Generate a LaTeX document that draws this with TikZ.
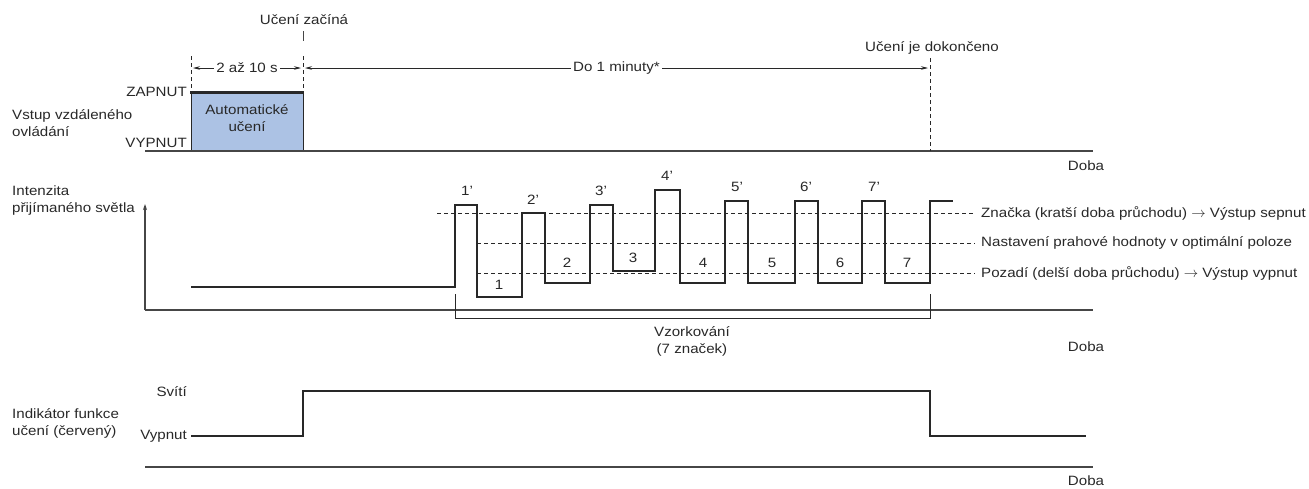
\documentclass[tikz,border=0pt]{standalone}
\usepackage{fontspec}
\setmainfont{Liberation Sans}[FakeStretch=1.12]
\usetikzlibrary{arrows.meta}

\definecolor{inkgray}{RGB}{40,40,40}
\definecolor{axisgray}{RGB}{70,70,70}
\definecolor{boxblue}{RGB}{172,194,228}

\tikzset{
  lbl/.style={font=\fontsize{13.5}{17}\selectfont, text=inkgray, inner sep=0pt},
  signal/.style={draw=inkgray, line width=2.1pt, line join=miter},
  axisline/.style={draw=axisgray, line width=1.2pt},
  guide/.style={draw=inkgray, dashed, dash pattern=on 4pt off 3pt, line width=0.7pt},
  dimline/.style={draw=inkgray, line width=0.7pt, {Stealth[length=7pt,width=3.5pt]}-{Stealth[length=7pt,width=3.5pt]}}
}

\begin{document}
\begin{tikzpicture}[x=1pt,y=-1pt]
\useasboundingbox (0,0) rectangle (1309,488);

% Remote control input
\coordinate (tstart) at (191,151);
\coordinate (tteach) at (303,151);
\coordinate (tend) at (930,151);
\node[lbl, anchor=west, align=left] (inlbl) at (12,123) {Vstup vzdáleného\\ovládání};
\node[lbl, anchor=east] (zap) at (187,92) {ZAPNUT};
\node[lbl, anchor=east] (vyp) at (187,143) {VYPNUT};
\fill[boxblue] (191,92) rectangle (303,151);
\draw[inkgray, line width=0.7pt] (191,92) -- (191,151) (303,92) -- (303,151);
\draw[inkgray, line width=3pt] (190,92) -- (304,92);
\node[lbl, align=center] (auto) at (247,118) {Automatické\\učení};
\draw[axisline] (145,151) -- (1093,151);
\node[lbl] (doba1) at (1086,166) {Doba};

% Time marks
\node[lbl] (start) at (304,20) {Učení začíná};
\draw[axisgray, line width=0.9pt] (303,31) -- (303,41);
\draw[guide] (191,56) -- (191,92);
\draw[guide] (303,56) -- (303,92);
\node[lbl] (done) at (932,48) {Učení je dokončeno};
\draw[guide] (930,58) -- (tend);
\draw[dimline] (193,68) -- (301,68) node[midway, lbl, fill=white, inner xsep=2pt] {2 až 10 s};
\draw[dimline] (305,68) -- (928,68) node[midway, lbl, fill=white, inner xsep=2pt] {Do 1 minuty*};

% Received light intensity
\node[lbl, anchor=west, align=left] (intlbl) at (12,201) {Intenzita\\přijímaného světla};
\draw[axisline, -{Stealth[length=6pt,width=4pt]}] (145,310) -- (145,204);
\draw[axisline] (145,310) -- (1093,310);
\draw[guide] (437,213) -- (975,213);
\draw[guide] (477,243) -- (975,243);
\draw[guide] (477,273) -- (975,273);
\node[lbl, anchor=west] (mark) at (981,213) {Značka (kratší doba průchodu) $\rightarrow$ Výstup sepnut};
\node[lbl, anchor=west] (thr) at (981,243) {Nastavení prahové hodnoty v optimální poloze};
\node[lbl, anchor=west] (bg) at (981,273) {Pozadí (delší doba průchodu) $\rightarrow$ Výstup vypnut};
\draw[signal] (191,287) -- (455,287) -- (455,205) -- (477,205) -- (477,297) -- (522,297)
  -- (522,213) -- (545,213) -- (545,283) -- (590,283) -- (590,205) -- (613,205)
  -- (613,271) -- (655,271) -- (655,190) -- (680,190) -- (680,283) -- (725,283)
  -- (725,201) -- (748,201) -- (748,283) -- (795,283) -- (795,201) -- (818,201)
  -- (818,283) -- (862,283) -- (862,201) -- (885,201) -- (885,283) -- (930,283)
  -- (930,201) -- (953,201);
\foreach \n/\x/\y in {1/467/191,2/533/200,3/601/191,4/667/176,5/737/187,6/806/187,7/874/187}
  \node[lbl] (peak\n) at (\x,\y) {\n'};
\foreach \n/\x/\y in {1/499/285,2/567/263,3/633/258,4/703/263,5/772/263,6/840/263,7/907/263}
  \node[lbl] (gap\n) at (\x,\y) {\n};
\draw[inkgray, line width=0.7pt] (455,294) -- (455,318) -- (930,318) -- (930,294);
\node[lbl, align=center] (samp) at (692,341) {Vzorkování\\(7 značek)};
\node[lbl] (doba2) at (1086,347) {Doba};

% Teaching indicator
\node[lbl, anchor=west, align=left] (indlbl) at (12,423) {Indikátor funkce\\učení (červený)};
\node[lbl, anchor=east] (on) at (187,392) {Svítí};
\node[lbl, anchor=east] (off) at (187,436) {Vypnut};
\draw[signal] (191,436) -- (303,436) -- (303,391) -- (930,391) -- (930,436) -- (1086,436);
\draw[axisline] (145,467) -- (1093,467);
\node[lbl] (doba3) at (1086,481) {Doba};

\end{tikzpicture}
\end{document}
